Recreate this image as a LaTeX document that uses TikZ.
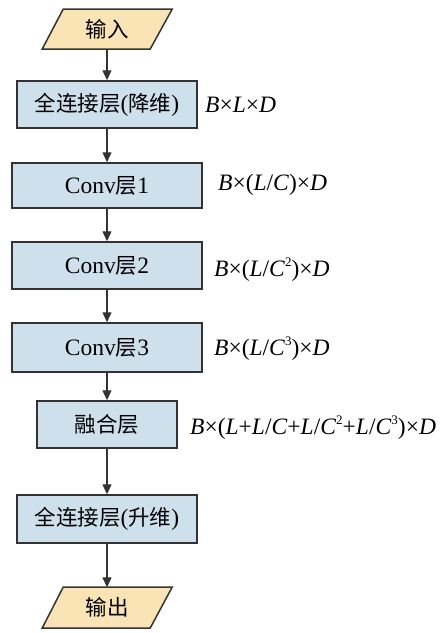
\documentclass[tikz,border=0pt]{standalone}
\usepackage{fontspec}
\setmainfont{Liberation Serif}
\newfontfamily\cjk{Noto Sans CJK SC}
\usetikzlibrary{arrows.meta,calc}
\newcommand{\zh}[1]{{\cjk\fontsize{21.5}{26}\selectfont #1}}
\newcommand{\sups}[1]{\raisebox{0.42em}{\fontsize{13}{13}\selectfont #1}}
\definecolor{boxfill}{RGB}{207,224,237}
\definecolor{iofill}{RGB}{250,228,182}
\definecolor{edge}{RGB}{51,51,51}
\begin{document}
\begin{tikzpicture}[x=1pt,y=-1pt,
  font=\fontsize{23.5}{28}\selectfont,
  layer/.style={draw=edge,line width=1.5pt,fill=boxfill,inner sep=0pt},
  iobox/.style={draw=none,inner sep=0pt,minimum width=108pt,minimum height=40pt},
  para/.style={draw=edge,line width=1.5pt,fill=iofill,line join=miter},
  flow/.style={draw=edge,line width=1.3pt,-{Triangle[length=10pt,width=9pt]}},
  dim/.style={anchor=base west,inner sep=0pt}]
\useasboundingbox (0,0) rectangle (447,633);
% input
\node[iobox] (in) at (107,29) {};
\draw[para] ($(in.center)+(-43.75,-20)$) -- ($(in.center)+(65.25,-20)$) -- ($(in.center)+(43.25,20)$) -- ($(in.center)+(-64.75,20)$) -- cycle;
\node at (in.center) {\zh{输入}};
% layers
\node[layer,minimum width=180pt,minimum height=47pt] (b1) at (107,104.5) {\zh{全连接层}(\zh{降维})};
\node[layer,minimum width=190pt,minimum height=45pt] (b2) at (107,185.5) {Conv\zh{层}1};
\node[layer,minimum width=190pt,minimum height=47pt] (b3) at (107,265.5) {Conv\zh{层}2};
\node[layer,minimum width=190pt,minimum height=49pt] (b4) at (107,347.5) {Conv\zh{层}3};
\node[layer,minimum width=140pt,minimum height=47pt] (b5) at (107,424.5) {\zh{融合层}};
\node[layer,minimum width=180pt,minimum height=48pt] (b6) at (107,519) {\zh{全连接层}(\zh{升维})};
% output
\node[iobox] (out) at (107,607.5) {};
\draw[para] ($(out.center)+(-43.75,-20.5)$) -- ($(out.center)+(65.25,-20.5)$) -- ($(out.center)+(43.25,20.5)$) -- ($(out.center)+(-64.75,20.5)$) -- cycle;
\node at (out.center) {\zh{输出}};
% dimension labels
\node[dim] (l1) at (205,112) {\textit{B}×\textit{L}×\textit{D}};
\node[dim] (l2) at (218,190) {\textit{B}×(\textit{L}/\textit{C})×\textit{D}};
\node[dim] (l3) at (214,276.5) {\textit{B}×(\textit{L}/\textit{C}\sups{2})×\textit{D}};
\node[dim] (l4) at (214,355) {\textit{B}×(\textit{L}/\textit{C}\sups{3})×\textit{D}};
\node[dim] (l5) at (190,434) {\textit{B}×(\textit{L}+\textit{L}/\textit{C}+\textit{L}/\textit{C}\sups{2}+\textit{L}/\textit{C}\sups{3})×\textit{D}};
% connectors
\draw[flow] (in.south) -- (b1.north);
\draw[flow] (b1.south) -- (b2.north);
\draw[flow] (b2.south) -- (b3.north);
\draw[flow] (b3.south) -- (b4.north);
\draw[flow] (b4.south) -- (b5.north);
\draw[flow] (b5.south) -- (b6.north);
\draw[flow] (b6.south) -- (out.north);
\end{tikzpicture}
\end{document}
